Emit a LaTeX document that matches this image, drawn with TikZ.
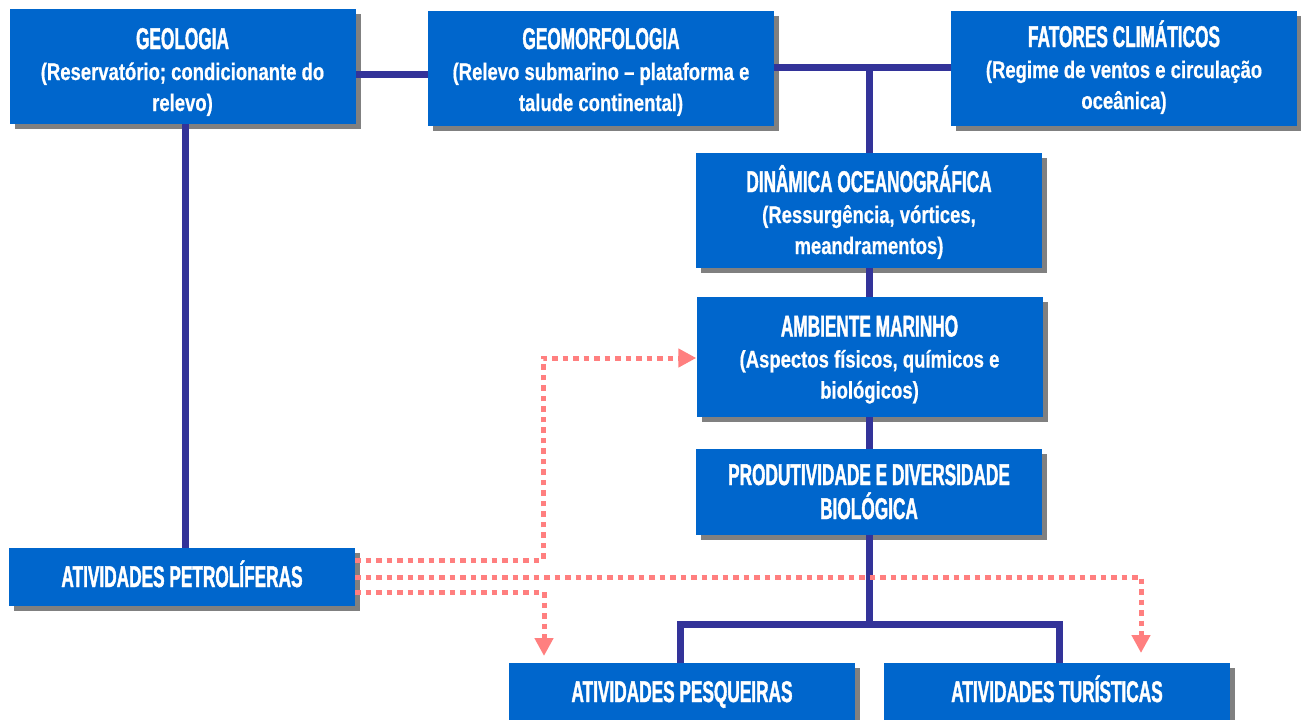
\documentclass[tikz,border=0pt]{standalone}
\usepackage{fontspec}
\newfontfamily\subfont{Liberation Sans Bold}[FakeStretch=0.77,FakeBold=0.6]
\newfontfamily\titfont{Liberation Sans Bold}[FakeStretch=0.575,FakeBold=1.3]
\usetikzlibrary{arrows.meta,shadows}
\definecolor{boxblue}{HTML}{0066CC}
\definecolor{shadowgray}{HTML}{808080}
\definecolor{linkblue}{HTML}{333399}
\definecolor{dotpink}{HTML}{FF7F7F}
\newcommand\bxttl[1]{{\titfont\fontsize{30}{32}\selectfont #1}}
\begin{document}
\begin{tikzpicture}[x=1pt,y=-1pt,
  bx/.style={fill=boxblue,text=white,inner sep=0pt,minimum width=346pt,
    minimum height=115pt,align=center,text depth=2pt,
    font=\subfont\fontsize{24}{31}\selectfont,
    general shadow={fill=shadowgray,shadow xshift=5pt,shadow yshift=-5pt}},
  onel/.style={minimum height=58pt,text height=22pt,text depth=2pt},
  link/.style={draw=linkblue,line width=7pt,line join=miter},
  dots/.style={draw=dotpink,line width=5pt,dash pattern=on 5.5pt off 5pt,
    -{Triangle[width=18pt,length=18pt]}}]
\useasboundingbox (0,0) rectangle (1301,720);
\coordinate (h1) at (0,74);
\coordinate (h2) at (0,67);
\coordinate (j2) at (869,624);
\node[bx,text height=91pt] (geo) at (182.5,66.5) {\bxttl{GEOLOGIA}\\(Reservatório; condicionante do\\relevo)};
\node[bx,text height=88pt] (geom) at (601,68) {\bxttl{GEOMORFOLOGIA}\\(Relevo submarino – plataforma e\\talude continental)};
\node[bx,text height=84pt] (fat) at (1124,68) {\bxttl{FATORES CLIMÁTICOS}\\(Regime de ventos e circulação\\oceânica)};
\node[bx,text height=89pt] (din) at (869,210.5) {\bxttl{DINÂMICA OCEANOGRÁFICA}\\(Ressurgência, vórtices,\\meandramentos)};
\node[bx,minimum height=120pt,text height=85pt] (amb) at (869.5,357) {\bxttl{AMBIENTE MARINHO}\\(Aspectos físicos, químicos e\\biológicos)};
\node[bx,minimum height=86pt,text height=56pt] (prod) at (869,492) {\bxttl{PRODUTIVIDADE E DIVERSIDADE}\\[3pt]\bxttl{BIOLÓGICA}};
\node[bx,onel] (pet) at (182,577) {\bxttl{ATIVIDADES PETROLÍFERAS}};
\node[bx,onel] (pes) at (682,692) {\bxttl{ATIVIDADES PESQUEIRAS}};
\node[bx,onel] (tur) at (1057,692) {\bxttl{ATIVIDADES TURÍSTICAS}};
% blue links
\draw[link] (geo.east |- h1) -- (geom.west |- h1);
\draw[link] (geom.east |- h2) -- (fat.west |- h2);
\draw[link] (din.north |- h2) -- (din.north);
\draw[link] (din.south) -- (din.south |- amb.north);
\draw[link] (amb.south -| din.south) -- (prod.north);
\draw[link] (prod.south) -- (j2);
\draw[link] ([xshift=-2pt]pes.north) |- (j2) -| ([xshift=2pt]tur.north);
\draw[link] ([xshift=2.5pt]geo.south) -- ([xshift=2.5pt]geo.south |- pet.north);
% pink dotted arrows
\coordinate (k1) at (543,560);
\coordinate (k2) at (543,358);
\coordinate (k3) at (1141,577);
\coordinate (k4) at (1141,653);
\coordinate (k5) at (544,592);
\coordinate (k6) at (544,656);
\draw[dots] (pet.east |- k1) -- (k1) -- (k2) -- (amb.west |- k2);
\draw[dots] (pet.east |- k3) -- (k3) -- (k4);
\draw[dots] (pet.east |- k5) -- (k5) -- (k6);
\end{tikzpicture}
\end{document}
